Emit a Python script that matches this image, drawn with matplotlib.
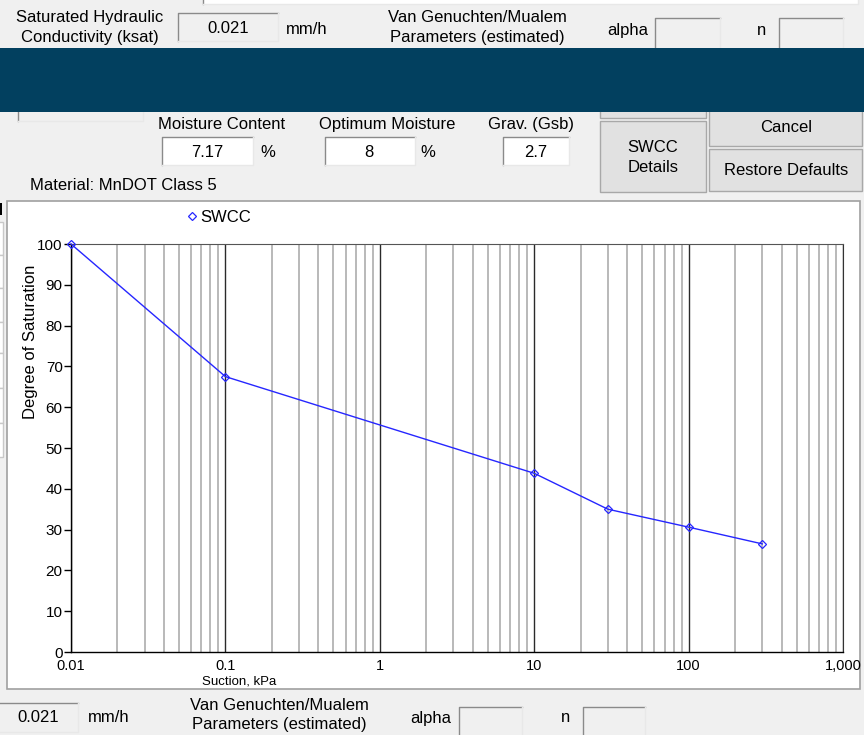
import matplotlib
matplotlib.use("Agg")
import matplotlib.pyplot as plt
from matplotlib.patches import Rectangle
from matplotlib.lines import Line2D
from matplotlib.ticker import FixedLocator, LogLocator, NullFormatter

plt.rcParams['font.family'] = ['Liberation Sans', 'DejaVu Sans']

# ---- data ----
suction = [0.01, 0.1, 10, 30, 100, 300]
saturation = [100, 67.5, 43.8, 35.0, 30.6, 26.5]
x_ticks = [0.01, 0.1, 1, 10, 100, 1000]
x_tick_labels = ['0.01', '0.1', '1', '10', '100', '1,000']
y_ticks = [0, 10, 20, 30, 40, 50, 60, 70, 80, 90, 100]
y_tick_labels = [str(v) for v in y_ticks]
material = 'Material: MnDOT Class 5'
ksat = '0.021'
moisture = '7.17'
optimum = '8'
gsb = '2.7'

W, H = 864, 735
fig = plt.figure(figsize=(W / 100, H / 100), dpi=100)
fig.patch.set_facecolor('#F0F0F0')

bg = fig.add_axes([0, 0, 1, 1])
bg.set_xlim(0, W)
bg.set_ylim(H, 0)
bg.axis('off')
bg.set_zorder(0)

UI = 12


def rect(x0, y0, x1, y1, fc, ec, lw=1.0, z=1):
    bg.add_patch(Rectangle((x0, y0), x1 - x0, y1 - y0, facecolor=fc,
                           edgecolor=ec if ec else 'none', lw=lw, zorder=z))


def txt(x, y, s, ha='center', size=UI, **kw):
    bg.text(x, y, s, ha=ha, va='center', fontsize=size, color='black', zorder=6, **kw)


def sunken(x0, y0, x1, y1, fc='white'):
    rect(x0, y0, x1, y1, fc, None, z=2)
    bg.plot([x0, x0, x1], [y1, y0, y0], color='#8A8A8A', lw=1.0, zorder=3)
    bg.plot([x1, x1, x0], [y0, y1, y1], color='#E8E8E8', lw=1.0, zorder=3)


def button(x0, y0, x1, y1):
    rect(x0, y0, x1, y1, '#E1E1E1', '#A8A8A8', lw=1.0, z=2)


# top cut-off combo box
sunken(203, -20, 858, 4, fc='white')

# top row
txt(90, 17, 'Saturated Hydraulic')
txt(90, 37, 'Conductivity (ksat)')
sunken(178, 13, 278, 41, fc='#F0F0F0')
txt(228, 28, ksat)
txt(286, 29, 'mm/h', ha='left')
txt(477, 17, 'Van Genuchten/Mualem')
txt(477, 37, 'Parameters (estimated)')
txt(607, 30, 'alpha', ha='left')
sunken(655, 18, 720, 60, fc='#F0F0F0')
txt(762, 30, 'n', ha='center')
sunken(779, 18, 843, 60, fc='#F0F0F0')

# cut-off controls under band
sunken(18, 90, 143, 121, fc='#F0F0F0')
button(600, 90, 706, 118)
button(709, 90, 862, 146)
rect(0, 48, W, 112, '#02405F', None, z=5)

# second row
txt(222, 124, 'Moisture Content')
sunken(162, 137, 253, 165)
txt(207, 152, moisture)
txt(268, 152, '%')
txt(387, 124, 'Optimum Moisture')
sunken(325, 137, 415, 165)
txt(369, 152, optimum)
txt(428, 152, '%')
txt(531, 124, 'Grav. (Gsb)')
sunken(503, 137, 569, 165)
txt(536, 152, gsb)
button(600, 121, 706, 192)
txt(653, 147, 'SWCC')
txt(653, 167, 'Details')
txt(786, 127, 'Cancel')
button(709, 149, 862, 191)
txt(786, 170, 'Restore Defaults')
txt(30, 185, material, ha='left')

# bottom row (repeated controls)
sunken(-5, 703, 78, 732, fc='#F0F0F0')
txt(38, 718, ksat)
txt(88, 718, 'mm/h', ha='left')
txt(279, 706, 'Van Genuchten/Mualem')
txt(279, 725, 'Parameters (estimated)')
txt(410, 718, 'alpha', ha='left')
sunken(459, 707, 522, 745, fc='#F0F0F0')
txt(566, 718, 'n')
sunken(583, 707, 645, 745, fc='#F0F0F0')

# left cut-off controls
for y0, y1 in [(222, 255), (255, 288), (288, 322), (322, 353), (353, 388), (388, 423), (423, 457)]:
    rect(-20, y0, 3, y1, 'white', '#C8C8C8', z=2)
rect(-5, 203, 2, 215, 'black', None, z=3)

# chart panel
rect(7, 201, 860, 689, 'white', '#A0A0A0', lw=1.2, z=1)

# ---- chart axes ----
x0p, x1p, y0p, y1p = 71, 843, 244, 652
ax = fig.add_axes([x0p / W, 1 - y1p / H, (x1p - x0p) / W, (y1p - y0p) / H])
ax.set_zorder(2)
ax.set_facecolor('white')
ax.set_xscale('log')
ax.set_xlim(0.01, 1000)
ax.set_ylim(0, 100)

ax.xaxis.set_major_locator(FixedLocator(x_ticks))
ax.set_xticklabels(x_tick_labels)
ax.xaxis.set_minor_locator(LogLocator(base=10, subs=range(2, 10), numticks=20))
ax.xaxis.set_minor_formatter(NullFormatter())
ax.set_yticks(y_ticks)
ax.set_yticklabels(y_tick_labels)

ax.grid(which='major', axis='x', color='#2A2A2A', lw=1.0)
ax.grid(which='minor', axis='x', color='#A6A6A6', lw=1.1)
ax.grid(False, axis='y')

ax.tick_params(axis='x', which='both', length=0, pad=5, labelsize=10.5)
ax.tick_params(axis='y', which='major', length=5, width=1, direction='out', pad=1,
               labelsize=11, color='black')
for s in ['left', 'bottom']:
    ax.spines[s].set_color('black')
    ax.spines[s].set_linewidth(1.0)
ax.spines['top'].set_color('#555555')
ax.spines['right'].set_color('#333333')

ax.plot(suction, saturation, color='#2626FF', lw=1.0, marker='D', ms=4.3,
        mfc='none', mec='#2626FF', mew=0.9, clip_on=False, zorder=5)

handle = Line2D([], [], ls='none', marker='D', ms=4.3, mfc='none', mec='#2626FF', mew=0.9)
fig.legend([handle], ['SWCC'], loc='center left', bbox_to_anchor=(187 / W, 1 - 217 / H),
           frameon=False, fontsize=12, handlelength=0.6, handletextpad=0.2,
           borderpad=0, borderaxespad=0)

fig.text(31 / W, 1 - 342 / H, 'Degree of Saturation', rotation=90, ha='center',
         va='center', fontsize=12)
fig.text(239 / W, 1 - 681 / H, 'Suction, kPa', ha='center', va='center', fontsize=9.5)

fig.savefig('out.png', dpi=100, facecolor=fig.get_facecolor())
